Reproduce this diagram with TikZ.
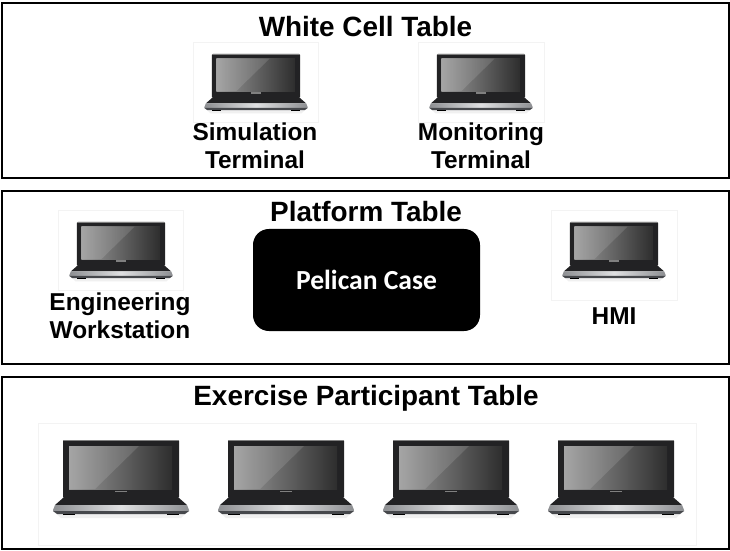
\documentclass[tikz,border=0pt]{standalone}
\usepackage{fontspec}
\setmainfont{Liberation Sans}
\newfontfamily\casefont{Carlito}
\usepackage{xcolor}
\definecolor{lapbody}{RGB}{34,34,36}
\definecolor{lapdeck}{RGB}{176,178,182}
\definecolor{lapedge}{RGB}{70,72,76}
\definecolor{boxedge}{RGB}{243,243,243}
\tikzstyle{tableframe} = [line width=2.4pt,draw=black]
\tikzstyle{backdrop} = [draw=boxedge,fill=white,line width=0.6pt]
\tikzstyle{tabletitle} = [font=\bfseries\fontsize{28}{30}\selectfont]
\tikzstyle{termlabel} = [font=\bfseries\fontsize{24.5}{28}\selectfont,align=center,inner sep=0pt]
\tikzset{
  pics/laptop/.style={code={
    % shadow under the base
    \fill[black!6] (-64,74) -- (64,74) -- (60,78) -- (-60,78) -- cycle;
    % lid
    \fill[lapbody,rounded corners=1pt] (-58,0) rectangle (58,58);
    \draw[gray,line width=0.5pt] (-58,0.3) -- (58,0.3);
    \shade[left color=black!40,right color=black!82] (-52,6) rectangle (51,49);
    \fill[white,opacity=0.12] (-52,6) -- (18,6) -- (-26,49) -- (-52,49) -- cycle;
    \fill[gray] (-6,50.5) rectangle (6,52);
    % keyboard and deck
    \fill[lapbody] (-58,58) -- (58,58) -- (66,65) -- (-66,65) -- cycle;
    \shade[left color=lapdeck!80!black,right color=lapdeck!80!black,middle color=lapdeck!40!white] (-66,65) -- (66,65) -- (68,70) -- (68,71) -- (-68,71) -- (-68,70) -- cycle;
    \fill[lapedge] (-68,71) -- (68,71) -- (64,74) -- (-64,74) -- cycle;
    \fill[black] (-58,74) rectangle (-46,75);
    \fill[black] (46,74) rectangle (58,75);
  }}
}
\begin{document}
\begin{tikzpicture}[x=1bp,y=-1bp]
    \useasboundingbox (0,0) rectangle (730,551);

    % White cell table
    \draw[tableframe] (2,3) rectangle (729,178);
    \node[tabletitle] (whitecell) at (365.5,27) {White Cell Table};
    \draw[backdrop] (193,42) rectangle (318,122);
    \draw[backdrop] (418,42) rectangle (544,122);
    \pic[scale=0.76] at (256,54) {laptop};
    \pic[scale=0.76] at (481,54) {laptop};
    \node[termlabel] (simterm) at (255,146) {Simulation\\Terminal};
    \node[termlabel] (monterm) at (481,146) {Monitoring\\Terminal};

    % Platform table
    \draw[tableframe] (2,191) rectangle (729,364);
    \node[tabletitle] (platform) at (366,212) {Platform Table};
    \draw[backdrop] (58,210) rectangle (183,290);
    \draw[backdrop] (551,210) rectangle (677,300);
    \pic[scale=0.76] at (121,222) {laptop};
    \pic[scale=0.76] at (614,222) {laptop};
    \node[termlabel] (engstation) at (120,316) {Engineering\\Workstation};
    \node[termlabel] (hmi) at (614,316) {HMI};
    \node[fill=black,rounded corners=16pt,minimum width=227bp,minimum height=102bp,text=white,font=\casefont\bfseries\fontsize{27.7}{30}\selectfont] (pelican) at (366.5,280) {Pelican Case};

    % Exercise participant table
    \draw[tableframe] (2,377) rectangle (729,549);
    \node[tabletitle] (exercise) at (366,398) {Exercise Participant Table};
    \draw[backdrop] (38,423) rectangle (696,545);
    \foreach \px in {121,286,451,616} {
        \pic at (\px,440) {laptop};
    }
\end{tikzpicture}
\end{document}
